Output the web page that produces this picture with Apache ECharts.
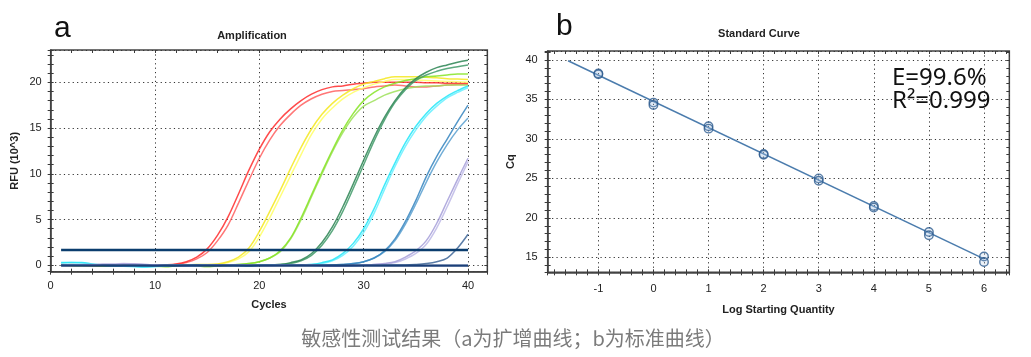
<!DOCTYPE html>
<html>
<head>
<meta charset="utf-8">
<script src="https://cdn.jsdelivr.net/npm/echarts@6/dist/echarts.min.js"></script>
<style>
html,body{margin:0;padding:0;background:#fff;}
#chart{width:1031px;height:357px;}
</style>
</head>
<body>
<div id="chart"></div>
<script>
// ---------- Panel a: amplification curves (RFU x10^3 per cycle) ----------
const cycles = [1,2,3,4,5,6,7,8,9,10,11,12,13,14,15,16,17,18,19,20,21,22,23,24,25,26,27,28,29,30,31,32,33,34,35,36,37,38,39,40];

const redA = [0.10,0.05,0.00,-0.05,0.00,0.05,0.10,0.05,0.00,0.00,0.05,0.15,0.40,0.90,1.80,3.30,5.30,7.80,10.40,12.70,14.60,16.00,17.10,18.00,18.70,19.20,19.50,19.60,19.80,19.90,20.00,20.00,20.00,20.00,20.00,19.95,19.95,19.90,19.90,19.90];
const redB = [0.00,0.10,0.05,0.00,-0.05,0.00,0.05,0.10,0.05,0.00,0.00,0.10,0.30,0.70,1.40,2.70,4.40,6.80,9.30,11.70,13.70,15.30,16.50,17.50,18.20,18.70,19.00,19.10,19.20,19.30,19.50,19.60,19.70,19.60,19.50,19.50,19.60,19.70,19.75,19.80];
const yellowA = [0.00,-0.05,0.00,0.05,0.05,0.00,-0.05,0.00,0.05,0.00,0.00,0.05,0.05,0.10,0.10,0.15,0.40,0.90,1.90,3.70,5.90,8.20,10.60,12.90,14.90,16.50,17.70,18.60,19.30,19.80,20.10,20.40,20.60,20.60,20.60,20.55,20.50,20.40,20.35,20.30];
const yellowB = [0.05,0.00,-0.05,0.00,0.05,0.05,0.00,-0.05,0.00,0.05,0.00,0.00,0.05,0.05,0.05,0.10,0.30,0.70,1.50,3.10,5.20,7.50,9.80,12.10,14.30,16.00,17.20,18.20,18.90,19.40,19.80,20.10,20.30,20.30,20.25,20.20,20.15,20.10,20.05,20.00];
const greenA = [0.00,0.05,0.00,-0.05,-0.10,-0.05,0.00,0.05,0.00,-0.10,-0.15,-0.05,0.05,0.00,-0.10,0.00,0.05,0.10,0.20,0.40,0.80,1.60,3.00,5.20,7.70,10.20,12.60,14.80,16.60,18.00,18.90,19.50,19.90,20.20,20.40,20.60,20.70,20.80,20.90,20.90];
const greenB = [0.05,0.00,-0.05,0.00,0.00,-0.05,-0.10,0.00,0.05,-0.05,-0.10,0.00,0.05,-0.05,-0.15,-0.05,0.05,0.10,0.20,0.40,0.80,1.50,2.90,5.00,7.50,10.00,12.40,14.50,16.20,17.40,18.00,18.60,19.00,19.30,19.50,19.60,19.60,19.70,19.70,19.70];
const dkGreenA = [0.00,0.00,0.05,0.05,0.00,-0.05,0.00,0.05,0.00,0.00,-0.05,0.00,0.05,0.00,0.00,-0.05,0.00,0.00,0.05,0.05,0.05,0.10,0.30,0.60,1.30,2.50,4.20,6.40,8.90,11.50,14.00,16.20,18.00,19.40,20.40,21.10,21.60,21.90,22.20,22.40];
const dkGreenB = [0.05,0.00,0.00,0.05,0.05,0.00,-0.05,0.00,0.05,0.00,0.00,-0.05,0.00,0.05,0.00,0.00,-0.05,0.00,0.00,0.05,0.05,0.10,0.20,0.50,1.10,2.20,3.80,5.90,8.40,11.00,13.60,15.90,17.80,19.20,20.20,20.80,21.20,21.50,21.70,21.90];
const cyanA = [0.30,0.30,0.30,0.15,0.05,0.00,-0.05,-0.10,-0.15,-0.10,-0.05,0.00,0.00,-0.05,0.00,0.00,0.05,0.00,-0.05,0.00,0.00,0.05,0.05,0.05,0.10,0.30,0.60,1.30,2.40,4.00,6.20,8.80,11.20,13.40,15.20,16.60,17.70,18.50,19.10,19.60];
const cyanB = [0.25,0.30,0.25,0.10,0.00,-0.05,-0.10,-0.15,-0.20,-0.15,-0.05,0.00,-0.05,0.00,0.00,0.05,0.00,0.00,-0.05,0.00,0.05,0.00,0.05,0.05,0.10,0.20,0.50,1.10,2.10,3.60,5.70,8.30,10.80,13.00,14.80,16.30,17.40,18.30,18.90,19.40];
const steelA = [0.00,0.05,0.05,0.00,0.00,-0.05,0.00,0.05,0.00,0.00,0.00,-0.05,0.00,0.00,0.05,0.00,0.00,-0.05,0.00,0.00,0.00,0.05,0.00,0.00,0.05,0.05,0.05,0.10,0.20,0.40,0.80,1.60,2.90,4.80,7.10,9.70,11.90,13.80,15.70,17.50];
const steelB = [0.05,0.00,0.00,0.05,0.00,0.00,-0.05,0.00,0.05,0.00,0.00,0.00,-0.05,0.00,0.00,0.05,0.00,0.00,-0.05,0.00,0.00,0.00,0.05,0.00,0.00,0.05,0.05,0.10,0.20,0.40,0.80,1.50,2.70,4.50,6.70,9.10,11.30,13.20,14.80,16.10];
const lavA = [0.00,0.00,0.05,0.05,0.10,0.10,0.15,0.15,0.10,0.05,0.00,0.00,-0.05,0.00,0.00,0.05,0.00,0.00,0.00,-0.05,0.00,0.00,0.00,0.05,0.00,-0.05,-0.10,-0.05,0.00,0.05,0.10,0.20,0.40,0.90,1.60,2.70,4.60,7.00,9.40,11.70];
const lavB = [0.05,0.05,0.10,0.10,0.15,0.15,0.20,0.15,0.10,0.05,0.00,0.00,0.00,-0.05,0.00,0.00,0.05,0.00,0.00,0.00,-0.05,0.00,0.00,0.00,0.05,0.00,-0.05,-0.10,-0.05,0.00,0.10,0.15,0.30,0.70,1.30,2.30,4.10,6.40,8.90,11.30];
const dkBlue = [0.05,0.00,0.00,0.00,0.05,0.05,0.00,0.00,0.00,-0.05,0.00,0.00,0.00,0.05,0.00,0.00,0.00,0.00,-0.05,0.00,0.00,0.00,0.00,0.05,0.00,0.00,0.00,0.00,0.05,0.00,0.00,0.05,0.05,0.05,0.10,0.20,0.40,0.80,1.90,3.40];
const paleFlat = [0.05,0.05,0.00,0.00,0.05,0.00,0.00,0.00,-0.05,0.00,0.00,0.00,0.00,0.00,-0.05,0.00,0.00,0.00,0.00,0.00,0.00,0.00,0.00,0.00,0.00,0.00,0.00,-0.05,-0.05,0.00,0.00,0.00,0.00,0.00,0.00,0.00,0.00,0.00,0.00,0.00];
const ntc = [-0.03,-0.03,-0.03,-0.03,-0.03,-0.03,-0.03,-0.03,-0.03,-0.03,-0.03,-0.03,-0.03,-0.03,-0.03,-0.03,-0.03,-0.03,-0.03,-0.03,-0.03,-0.03,-0.03,-0.03,-0.03,-0.03,-0.03,-0.03,-0.03,-0.03,-0.03,-0.03,-0.03,-0.03,-0.03,-0.03,-0.03,-0.03,-0.03,-0.03];
const thresholdRFU = 1.67;

// ---------- Panel b: standard curve ----------
const logQty = [-1,-1,0,0,1,1,2,2,3,3,4,4,5,5,6,6];
const cqValues = [38.3,38.2,34.6,34.3,31.6,31.3,28.1,28.0,25.0,24.7,21.5,21.3,18.2,17.8,15.1,14.4];
const fitX = [-1.55, 6.0];
const fitY = [39.9, 14.8];
const effText = 'E=99.6%';
const r2Text = 'R²=0.999';

const curves = [
  {d: paleFlat, c: '#a9b8d4'},
  {d: redB, c: '#ff5f5f'},
  {d: redA, c: '#ff2b2b'},
  {d: yellowB, c: '#ffff66'},
  {d: yellowA, c: '#f5e81e'},
  {d: greenB, c: '#9ee05a'},
  {d: greenA, c: '#86e424'},
  {d: dkGreenB, c: '#3f9a68'},
  {d: dkGreenA, c: '#2a8452'},
  {d: cyanB, c: '#66f0ff'},
  {d: cyanA, c: '#22e6f8'},
  {d: steelB, c: '#5aa0d0'},
  {d: steelA, c: '#3585bf'},
  {d: lavB, c: '#bdb8e6'},
  {d: lavA, c: '#a49ed8'},
  {d: dkBlue, c: '#3d6596'}
];

const FONT = '"Liberation Sans", Arial, sans-serif';
const AXC = '#3a3a3a';
const dotted = {show: true, lineStyle: {type: [1.2, 3.2], color: '#333', width: 1}};

function ax(o) {
  const base = {
    type: 'value',
    axisLine: {show: false, onZero: false},
    axisTick: {show: false},
    minorTick: {show: false},
    axisLabel: {show: false},
    splitLine: {show: false}
  };
  return Object.assign(base, o);
}
function tickSet(inside, len) {
  return {
    axisTick: {show: true, inside: inside, length: len, lineStyle: {color: AXC, width: 1}},
    minorTick: {show: true, splitNumber: 5, length: len, lineStyle: {color: AXC, width: 1}}
  };
}
const labelStyle = {show: true, color: '#222', fontFamily: FONT, fontSize: 11};
const nameStyle = {color: '#222', fontFamily: FONT, fontSize: 11, fontWeight: 'bold'};

// panel a ranges
const aX = {min: 0, max: 41.85, interval: 10};
const aY = {min: -0.69, max: 23.53, splitNumber: 5};
// panel b ranges
const bX = {min: -1.92, max: 6.46, splitNumber: 8};
const bY = {min: 13.1, max: 41.14, splitNumber: 6};

const xAxes = [
  ax(Object.assign({gridIndex: 0, position: 'bottom'}, aX, tickSet(false, 3), {
    axisLine: {show: true, onZero: false, lineStyle: {color: '#444', width: 1.5}},
    axisLabel: Object.assign({}, labelStyle, {margin: 9, showMaxLabel: false}),
    splitLine: dotted,
    name: 'Cycles', nameLocation: 'middle', nameGap: 28, nameTextStyle: nameStyle
  })),
  ax(Object.assign({gridIndex: 0, position: 'bottom'}, aX, tickSet(true, 3))),
  ax(Object.assign({gridIndex: 0, position: 'top'}, aX, tickSet(true, 3))),
  ax(Object.assign({gridIndex: 1, position: 'bottom'}, bX, tickSet(false, 3), {
    axisLine: {show: true, onZero: false, lineStyle: {color: '#444', width: 1.5}},
    axisLabel: Object.assign({}, labelStyle, {margin: 11, showMinLabel: false, showMaxLabel: false}),
    splitLine: dotted,
    name: 'Log Starting Quantity', nameLocation: 'middle', nameGap: 32, nameTextStyle: nameStyle
  })),
  ax(Object.assign({gridIndex: 1, position: 'bottom'}, bX, tickSet(true, 3))),
  ax(Object.assign({gridIndex: 1, position: 'top'}, bX, tickSet(true, 3)))
];
const yAxes = [
  ax(Object.assign({gridIndex: 0, position: 'left'}, aY, tickSet(false, 3), {
    axisLine: {show: true, onZero: false, lineStyle: {color: '#444', width: 1.5}},
    axisLabel: Object.assign({}, labelStyle, {margin: 9, showMinLabel: false, showMaxLabel: false}),
    splitLine: dotted,
    name: 'RFU (10^3)', nameLocation: 'middle', nameGap: 30, nameTextStyle: nameStyle
  })),
  ax(Object.assign({gridIndex: 0, position: 'left'}, aY, tickSet(true, 3))),
  ax(Object.assign({gridIndex: 0, position: 'right'}, aY, tickSet(true, 3))),
  ax(Object.assign({gridIndex: 1, position: 'left'}, bY, tickSet(false, 3), {
    axisLine: {show: true, onZero: false, lineStyle: {color: '#444', width: 1.5}},
    axisLabel: Object.assign({}, labelStyle, {margin: 10, showMinLabel: false, showMaxLabel: false}),
    splitLine: dotted,
    name: 'Cq', nameLocation: 'middle', nameGap: 31, nameTextStyle: nameStyle
  })),
  ax(Object.assign({gridIndex: 1, position: 'left'}, bY, tickSet(true, 3))),
  ax(Object.assign({gridIndex: 1, position: 'right'}, bY, tickSet(true, 3)))
];

const series = [];
curves.forEach(function (cv) {
  series.push({
    type: 'line', xAxisIndex: 0, yAxisIndex: 0, smooth: 0.35, symbol: 'none',
    lineStyle: {color: cv.c, width: 1.5, opacity: 0.85},
    data: cycles.map(function (c, i) { return [c, cv.d[i]]; }),
    z: 3
  });
});
series.push({
  type: 'line', xAxisIndex: 0, yAxisIndex: 0, symbol: 'none',
  lineStyle: {color: '#1b3f78', width: 2.2},
  data: cycles.map(function (c, i) { return [c, ntc[i]]; }), z: 4
});
series.push({
  type: 'line', xAxisIndex: 0, yAxisIndex: 0, symbol: 'none',
  lineStyle: {color: '#0b3d6e', width: 2.6},
  data: [[cycles[0], thresholdRFU], [cycles[cycles.length - 1], thresholdRFU]], z: 5
});
series.push({
  type: 'line', xAxisIndex: 3, yAxisIndex: 3, symbol: 'none',
  lineStyle: {color: '#4b7cad', width: 1.5},
  data: fitX.map(function (x, i) { return [x, fitY[i]]; }), z: 3
});
series.push({
  type: 'scatter', xAxisIndex: 3, yAxisIndex: 3, symbol: 'circle', symbolSize: 8.5,
  itemStyle: {color: 'rgba(160,190,225,0.25)', borderColor: '#2d5b8f', borderWidth: 1.4},
  data: logQty.map(function (x, i) { return [x, cqValues[i]]; }), z: 4
});

function txt(x, y, text, font, fill, align, valign) {
  return {type: 'text', x: x, y: y, silent: true, z: 10,
    style: {text: text, font: font, fill: fill, align: align, verticalAlign: valign,
            textAlign: align, textVerticalAlign: valign}};
}

const option = {
  animation: false,
  backgroundColor: '#fff',
  grid: [
    {left: 50.67, top: 50, width: 436.67, height: 221.67, show: true, borderColor: '#444', borderWidth: 1.5, containLabel: false, outerBoundsMode: 'none'},
    {left: 547.67, top: 51, width: 461.67, height: 221.33, show: true, borderColor: '#444', borderWidth: 1.5, containLabel: false, outerBoundsMode: 'none'}
  ],
  xAxis: xAxes,
  yAxis: yAxes,
  series: series,
  graphic: [
    txt(252, 36, 'Amplification', 'bold 11px ' + FONT, '#222', 'center', 'middle'),
    txt(759, 34, 'Standard Curve', 'bold 11px ' + FONT, '#222', 'center', 'middle'),
    txt(54, 29, 'a', '30px ' + FONT, '#111', 'left', 'middle'),
    txt(556, 27, 'b', '30px ' + FONT, '#111', 'left', 'middle'),
    txt(892, 78, effText, '24px "Noto Sans", sans-serif', '#111', 'left', 'middle'),
    txt(892, 101, r2Text, '24px "Noto Sans", sans-serif', '#111', 'left', 'middle'),
    txt(513, 338, '敏感性测试结果（a为扩增曲线；b为标准曲线）', '20px "Noto Sans CJK SC", sans-serif', '#7b7b7b', 'center', 'middle')
  ]
};

const chart = echarts.init(document.getElementById('chart'), null, {renderer: 'canvas'});
chart.setOption(option);
</script>
</body>
</html>
